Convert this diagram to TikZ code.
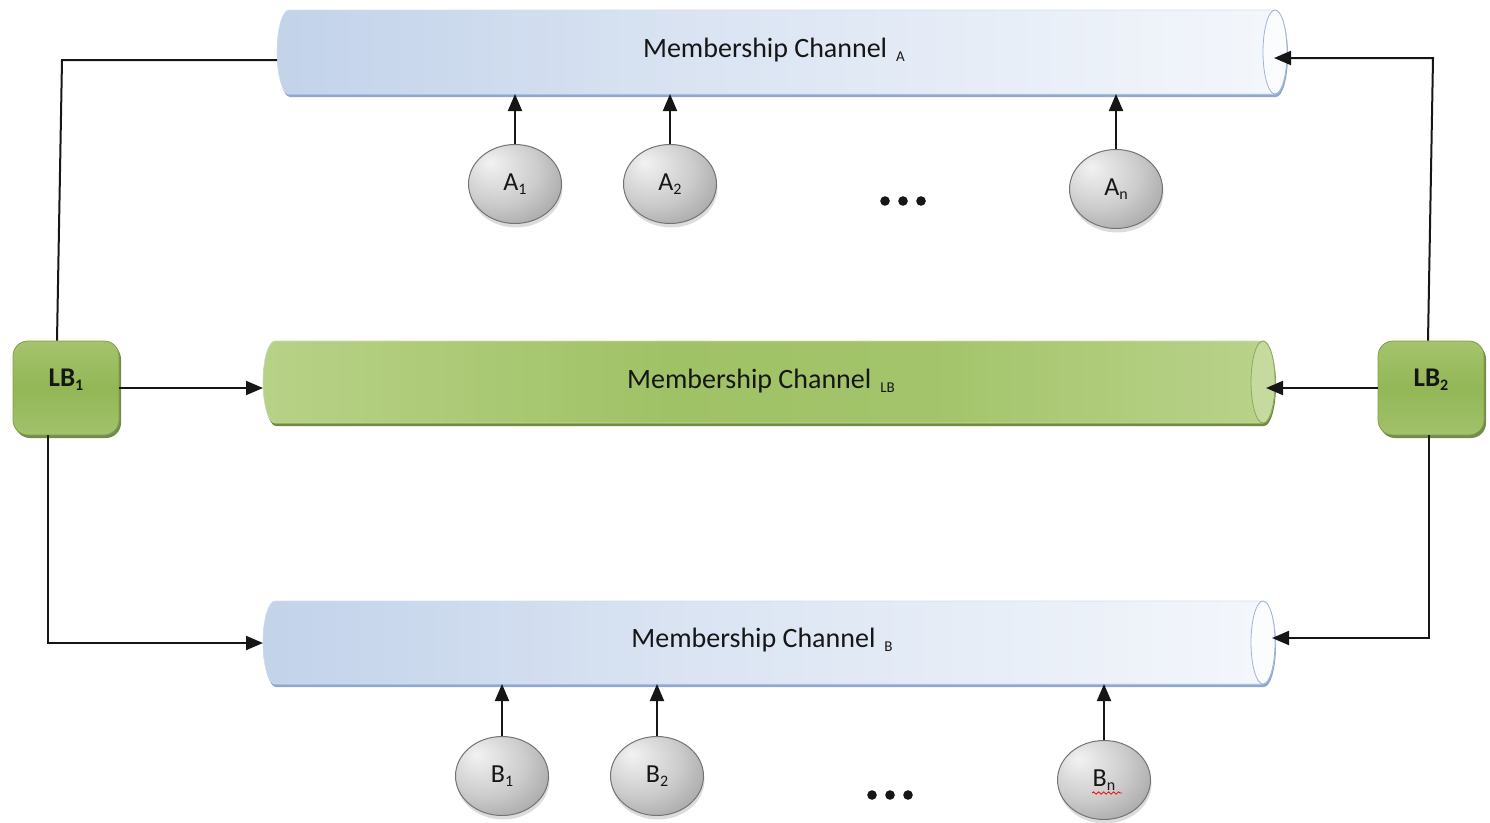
\documentclass[tikz,border=0pt]{standalone}
\usepackage{fontspec}
\setmainfont{Carlito}
\usetikzlibrary{arrows.meta,shapes.geometric,shadows,decorations.pathmorphing}

% palette
\definecolor{bluL}{HTML}{A6BEE0}
\definecolor{bluM}{HTML}{D9E3F2}
\definecolor{bluR}{HTML}{FDFEFF}
\definecolor{blushadow}{HTML}{8EA8CF}
\definecolor{blurim}{HTML}{9FB4D5}
\definecolor{blucap}{HTML}{FAFCFE}
\definecolor{grnA}{HTML}{C6DB9B}
\definecolor{grnB}{HTML}{A0C266}
\definecolor{grnC}{HTML}{C0D794}
\definecolor{grnshadow}{HTML}{6E8C3B}
\definecolor{grnrim}{HTML}{8DAA5A}
\definecolor{grncap}{HTML}{C6DA9F}
\definecolor{boxT}{HTML}{B6D083}
\definecolor{boxM}{HTML}{93B756}
\definecolor{boxB}{HTML}{B0CC82}
\definecolor{boxedge}{HTML}{7E9F45}
\definecolor{boxshadow}{HTML}{62803A}
\definecolor{ink}{HTML}{161616}

% fills of the channels, the balancers and the members
\pgfdeclarehorizontalshading{chanblu}{100bp}{color(0bp)=(bluL); color(45bp)=(bluM); color(85bp)=(bluR); color(100bp)=(bluR)}
\pgfdeclarehorizontalshading{changrn}{100bp}{color(0bp)=(grnA); color(15bp)=(grnA!92!grnB); color(45bp)=(grnB); color(58bp)=(grnB!90!grnC); color(80bp)=(grnC); color(100bp)=(grnC!85!grnB)}
\pgfdeclareverticalshading{lbgrad}{100bp}{color(0bp)=(boxB); color(50bp)=(boxM); color(100bp)=(boxT)}
\pgfdeclareradialshading{knob}{\pgfpoint{-14bp}{14bp}}{color(0bp)=(black!5); color(22bp)=(black!20); color(45bp)=(black!42); color(70bp)=(black!55)}

% a horizontal cylinder: left x, right x, top y, bottom y, colour prefix
\newcommand{\drawchan}[5]{%
  \pgfmathsetmacro{\chry}{(#4-#3)/2}%
  \pgfmathsetmacro{\chyc}{(#4+#3)/2}%
  \pgfmathsetmacro{\chl}{#1+12}%
  \pgfmathsetmacro{\chr}{#2-12}%
  \fill[#5shadow, xshift=1pt, yshift=-3pt] (\chl,#3) -- (\chr,#3)
    arc[start angle=90, end angle=-90, x radius=12pt, y radius=\chry pt] -- (\chl,#4)
    arc[start angle=270, end angle=90, x radius=12pt, y radius=\chry pt] -- cycle;
  \shadedraw[shading=chan#5, draw=#5rim!45, line width=0.6pt] (\chl,#3) -- (\chr,#3)
    arc[start angle=90, end angle=-90, x radius=12pt, y radius=\chry pt] -- (\chl,#4)
    arc[start angle=270, end angle=90, x radius=12pt, y radius=\chry pt] -- cycle;
  \draw[fill=#5cap, draw=#5rim, line width=0.8pt] (\chr,\chyc) ellipse[x radius=12pt, y radius=\chry pt];
}
\newcommand{\chsub}[1]{\hspace{9pt}\raisebox{-4pt}{\fontsize{15}{15}\selectfont #1}}
\newcommand{\lowsub}[1]{\raisebox{-4pt}{\fontsize{16}{16}\selectfont #1}}

\tikzset{
  chlabel/.style={font=\fontsize{28}{30}\selectfont, text=ink, inner sep=0pt},
  member/.style={ellipse, minimum width=93pt, minimum height=79pt, inner sep=0pt,
    shade, shading=knob, draw=black!55, line width=1pt,
    drop shadow={shadow xshift=1pt, shadow yshift=-4pt, fill=black!30, opacity=0.45},
    font=\fontsize{26}{28}\selectfont, text=ink},
  lbbox/.style={rectangle, rounded corners=15pt, minimum width=106pt, minimum height=94pt,
    shade, shading=lbgrad, draw=boxedge, line width=0.8pt,
    drop shadow={shadow xshift=2pt, shadow yshift=-3pt, fill=boxshadow, opacity=0.9}},
  lbtext/.style={font=\bfseries\fontsize{27}{29}\selectfont, text=ink},
  wire/.style={draw=ink, line width=2pt},
  conn/.style={wire, -{Triangle[length=17pt, width=14pt]}},
  dot/.style={fill=ink}
}

\begin{document}
\begin{tikzpicture}[x=1pt, y=-1pt]
\useasboundingbox (0,0) rectangle (1490,822);

% channels
\drawchan{277}{1287}{10}{94}{blu}
\drawchan{263}{1275}{341}{423}{grn}
\drawchan{263}{1275}{601}{684}{blu}

\node[chlabel] (chA)  at (774,50)  {Membership Channel\chsub{A}};
\node[chlabel] (chLB) at (761,381) {Membership Channel\chsub{LB}};
\node[chlabel] (chB)  at (762,640) {Membership Channel\chsub{B}};

% attachment points on the channels
\coordinate (chA-left)  at (277,60);
\coordinate (chA-end)   at (1274,58);
\coordinate (chA-base)  at (0,94);
\coordinate (chLB-left) at (263,388);
\coordinate (chLB-end)  at (1266,388);
\coordinate (chB-left)  at (263,643);
\coordinate (chB-end)   at (1272,638);
\coordinate (chB-base)  at (0,684);
\coordinate (k1) at (62,60);
\coordinate (k2) at (1433,58);

% load balancers
\node[lbbox, label={[lbtext, yshift=8pt]center:LB\lowsub{1}}] (LB1) at (66,388) {};
\node[lbbox, label={[lbtext, yshift=8pt]center:LB\lowsub{2}}] (LB2) at (1431,388) {};

% members of group A
\node[member] (A1) at (515,184) {A\lowsub{1}};
\node[member] (A2) at (670,184) {A\lowsub{2}};
\node[member] (An) at (1116,189) {A\lowsub{n}};
\fill[dot] (885,201) circle[radius=4.8pt] (903,201) circle[radius=4.8pt] (921,201) circle[radius=4.8pt];

% members of group B
\node[member] (B1) at (502,776) {B\lowsub{1}};
\node[member] (B2) at (657,776) {B\lowsub{2}};
\node[member] (Bn) at (1104,780) {B\lowsub{n}};
\draw[red, line width=0.8pt, decorate, decoration={snake, segment length=5pt, amplitude=1.2pt}]
  (1092,793) -- (1122,793);
\fill[dot] (872,795) circle[radius=4.8pt] (890,795) circle[radius=4.8pt] (908,795) circle[radius=4.8pt];

% members join their channels
\foreach \m in {A1,A2,An} \draw[conn] (\m.north) -- (\m.north |- chA-base);
\foreach \m in {B1,B2,Bn} \draw[conn] (\m.north) -- (\m.north |- chB-base);

% balancer links
\draw[wire] ([xshift=-9pt]LB1.north) -- (k1) -- (chA-left);
\draw[conn] (LB1.east) -- (chLB-left);
\draw[conn] ([xshift=-18pt]LB1.south) |- (chB-left);
\draw[conn] ([xshift=-3pt]LB2.north) -- (k2) -- (chA-end);
\draw[conn] (LB2.west) -- (chLB-end);
\draw[conn] ([xshift=-2pt]LB2.south) |- (chB-end);
\end{tikzpicture}
\end{document}
